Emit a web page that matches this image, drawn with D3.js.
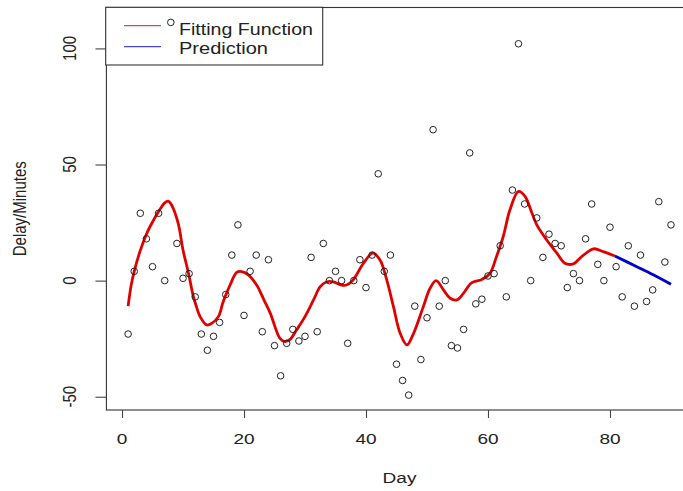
<!DOCTYPE html>
<html><head><meta charset="utf-8">
<script src="https://d3js.org/d3.v7.min.js"></script>
<style>body{margin:0;background:#fff}svg{display:block}text{font-family:"Liberation Sans",Arial,sans-serif;fill:#222}</style>
</head><body><svg id="c" width="683" height="491"></svg>
<script>
const days = [1,2,3,4,5,6,7,8,9,10,11,12,13,14,15,16,17,18,19,20,21,22,23,24,25,26,27,28,29,30,
  31,32,33,34,35,36,37,38,39,40,41,42,43,44,45,46,47,48,49,50,51,52,53,54,55,56,57,58,59,60,
  61,62,63,64,65,66,67,68,69,70,71,72,73,74,75,76,77,78,79,80,81,82,83,84,85,86,87,88,89,90];
const delays = [-23,4,29,18,6,29,0,111.2,16,1,3,-7,-23,-30,-24,-18,-6,11,24,-15,4,11,-22,9,-28,-41,-27,-21,-26,-24,
  10,-22,16,0,4,0,-27,0,9,-3,11,46,4,11,-36,-43,-49.3,-11,-34,-16,65,-11,0,-28,-29,-21,55,-10,-8,2,
  3,15,-7,39,102,33,0,27,10,20,16,15,-3,3,0,18,33,7,0,23,6,-7,15,-11,11,-9,-4,34,8,24];
const fitDays = [1,1.5,2,3,4,4.6,6,7,7.6,8.1,9.2,10,10.9,11.7,12.2,12.8,13.9,14.7,15.8,16.6,17.7,18.8,19.6,20.7,22.1,22.6,23.3,24.3,25.9,26.7,27.6,28.6,30,31.4,32.5,33.6,34.6,36,36.8,37.8,39.6,41.1,42.3,43.4,44.5,45.6,46.7,47.8,49.4,50.5,51.5,52.7,53.8,54.9,56,57.3,59,60.3,61.4,62.5,63.6,65,66.1,67.2,68,69.6,71.3,72.6,74,75.4,77.3,78.9,80.8];
const fitVals = [-11,-2,4,13,20,23.3,29.8,33.5,34.2,32.7,24.8,13.2,3.2,-6.9,-11.2,-15.5,-19.1,-18.4,-15.5,-9,-2,3.5,3.9,2.5,-2,-4.5,-8.5,-14,-24.9,-26.3,-25.2,-21.3,-15.5,-8.3,-2.6,-0.5,-0.5,-1.9,-1.9,0,7.5,11.8,8.9,0.3,-11.2,-22.7,-27.7,-22.7,-11.2,-3.3,0,-4,-7.6,-8.3,-5.4,-1,0.5,3,10.4,19,30.5,38.4,36.2,29.1,24,17.6,11.8,7.5,7.2,10.4,13.7,12.5,10.6];
const predDays = [80.8,84.4,87.1,90];
const predVals = [10.6,6,2.5,-1.6];
const xTicks = [0,20,40,60,80];
const yTicks = [-50,0,50,100];
const legendLabels = ["Fitting Function","Prediction"];
const legendColors = ["#d84848","#4848c8"];

const svg = d3.select("#c");
const L=106.4, R=692.7, T=7.5, B=410;
const ext = a => { const e=d3.extent(a), p=(e[1]-e[0])*0.04; return [e[0]-p,e[1]+p]; };
const x = d3.scaleLinear().domain(ext(days)).range([L,R]);
const y = d3.scaleLinear().domain(ext(delays)).range([B,T]);
const SX = 1.27;

// box
svg.append("rect").attr("x",L).attr("y",T).attr("width",R-L).attr("height",B-T)
  .attr("fill","none").attr("stroke","#333").attr("stroke-width",1.1);

// x axis
const xa = svg.append("g").attr("transform",`translate(0,${B})`)
  .call(d3.axisBottom(x).tickValues(xTicks).tickSize(8).tickFormat(()=>""));
xa.select(".domain").remove();
xa.selectAll("line").attr("stroke","#444").attr("stroke-width",1.1);
xTicks.forEach(t=>{
  svg.append("text").attr("transform",`translate(${x(t)},444) scale(${SX},1)`)
    .attr("text-anchor","middle").attr("font-size",15).text(t);
});
// y axis
const ya = svg.append("g").attr("transform",`translate(${L},0)`)
  .call(d3.axisLeft(y).tickValues(yTicks).tickSize(11).tickFormat(()=>""));
ya.select(".domain").remove();
ya.selectAll("line").attr("stroke","#444").attr("stroke-width",1.1);
yTicks.forEach(t=>{
  svg.append("text").attr("transform",`translate(76,${y(t)}) scale(${SX},1) rotate(-90)`)
    .attr("text-anchor","middle").attr("font-size",15).text(t);
});
svg.append("text").attr("transform",`translate(${(L+R)/2},482.5) scale(${SX},1)`)
  .attr("text-anchor","middle").attr("font-size",15).text("Day");
svg.append("text").attr("transform",`translate(26,${(T+B)/2}) scale(${SX},1) rotate(-90)`)
  .attr("text-anchor","middle").attr("font-size",15).text("Delay/Minutes");

// clip
svg.append("clipPath").attr("id","clip").append("rect").attr("x",L).attr("y",T).attr("width",R-L).attr("height",B-T);
const plot = svg.append("g").attr("clip-path","url(#clip)");

const line = d3.line().x(d=>x(d[0])).y(d=>y(d[1])).curve(d3.curveCatmullRom.alpha(0.5));
plot.append("path").datum(fitDays.map((d,i)=>[d,fitVals[i]])).attr("d",line)
  .attr("fill","none").attr("stroke","#e00000").attr("stroke-width",2.8).attr("stroke-linejoin","round");
plot.append("path").datum(predDays.map((d,i)=>[d,predVals[i]])).attr("d",line)
  .attr("fill","none").attr("stroke","#0000cc").attr("stroke-width",2.8).attr("stroke-linejoin","round");

// legend
const lg = svg.append("g");
lg.append("rect").attr("x",105.7).attr("y",7.3).attr("width",217).attr("height",57.7)
  .attr("fill","#fff").attr("stroke","#333").attr("stroke-width",1.1);
const lgY=[25.7,46.7], lgB=[34.7,53.8], lgW=[134,89];
legendLabels.forEach((s,i)=>{
  lg.append("line").attr("x1",124).attr("x2",161).attr("y1",lgY[i]).attr("y2",lgY[i])
    .attr("stroke",legendColors[i]).attr("stroke-width",1.2);
  lg.append("text").attr("x",179).attr("y",lgB[i]).attr("font-size",16.5)
    .attr("textLength",lgW[i]).attr("lengthAdjust","spacingAndGlyphs").text(s);
});

// points (drawn over the legend, as in the reference)
const pts = svg.append("g").attr("clip-path","url(#clip)");
pts.selectAll("circle").data(days).enter().append("circle")
  .attr("cx",d=>x(d)).attr("cy",(d,i)=>y(delays[i])).attr("r",3.3)
  .attr("fill","none").attr("stroke","#222").attr("stroke-width",1);
</script></body></html>
